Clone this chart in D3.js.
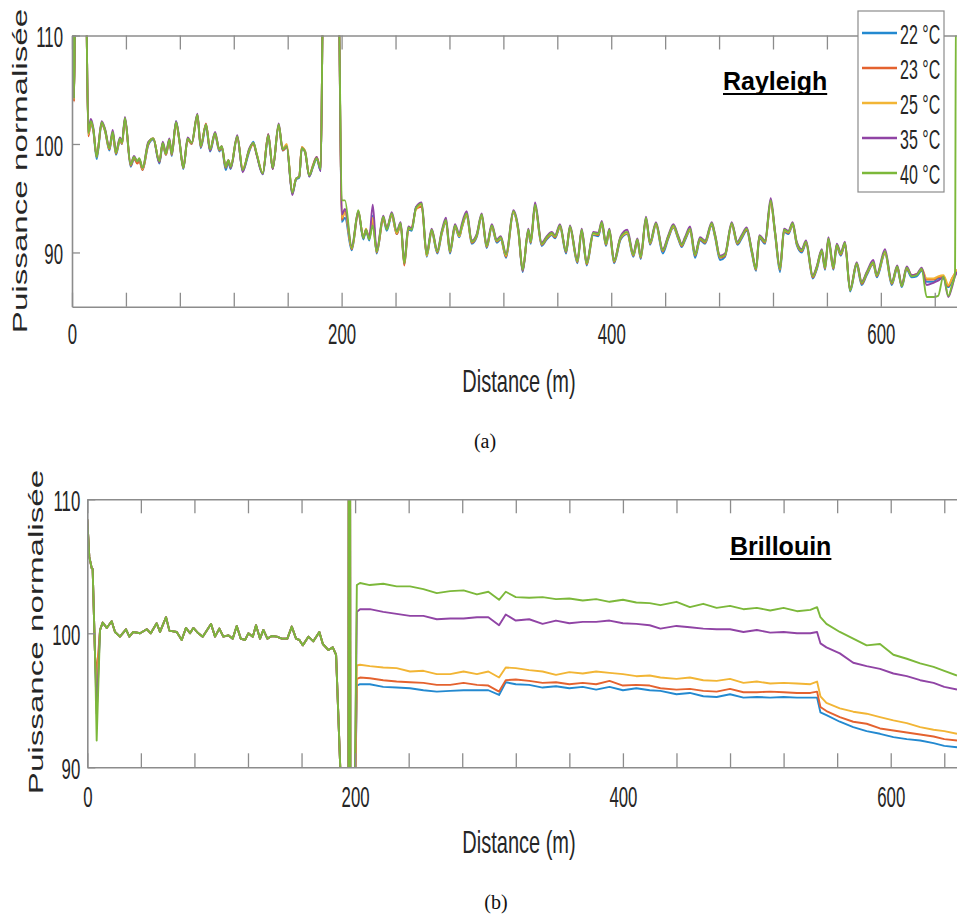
<!DOCTYPE html>
<html><head><meta charset="utf-8">
<script src="https://cdn.jsdelivr.net/npm/d3@7"></script>
<style>body{margin:0;background:#fff;} svg{display:block;}</style>
</head><body>
<svg id="c" width="957" height="914"></svg>
<script>
// ---------------- DATA ----------------
const seriesNames = ["22 °C", "23 °C", "25 °C", "35 °C", "40 °C"];
const seriesColors = ["#2389d0", "#e4622f", "#f2b535", "#9044a5", "#7cb83a"];
const xTickValues = [0,40,80,120,160,200,240,280,320,360,400,440,480,520,560,600,640];
const xTickLabels = [0,200,400,600];
const yTickValues = [90,100,110];

// Rayleigh panel (a)
const distR = [0,1.1,1.5,2.6,10.2,12.1,13.9,15.8,18.3,22.0,
24.5,27.7,30.2,32.6,35.6,37.1,39.3,43.5,46.0,48.4,
49.9,52.4,56.6,60.3,64.8,67.3,69.7,72.2,74.0,77.2,
79.6,82.6,85.8,88.8,93.0,95.5,99.4,102.4,106.1,109.3,
111.1,114.0,116.0,117.7,122.6,126.6,131.5,134.5,137.0,141.5,
145.6,148.9,153.3,156.3,159.3,163.4,166.2,168.6,170.4,172.8,
176.0,178.6,181.5,184.5,186.4,197.6,200.1,202.5,207.5,212.4,
216.1,218.1,220.5,223.1,226.0,230.9,233.5,237.2,240.9,243.8,
246.5,249.5,252.0,255.2,259.4,263.1,266.8,271.0,274.3,277.4,
280.4,284.1,287.3,289.1,292.8,296.5,300.2,303.9,307.6,311.4,
315.1,318.0,322.0,327.4,331.1,334.3,338.5,340.3,343.5,348.4,
352.2,355.9,358.3,362.0,366.5,369.4,374.9,378.1,381.8,386.7,
390.4,393.0,396.1,398.6,402.1,407.0,411.9,416.4,419.4,421.9,
425.8,428.8,433.2,438.2,442.4,446.1,449.8,452.3,454.7,458.5,
462.2,465.9,469.6,474.6,477.0,480.7,484.4,489.4,493.6,496.8,
500.5,504.2,507.4,509.9,514.1,518.3,521.5,525.2,528.2,531.4,
534.6,537.6,541.3,544.5,549.5,552.4,556.2,558.6,561.1,564.8,
567.3,570.3,573.4,577.2,582.1,585.8,589.5,594.4,597.0,603.1,
608.1,612.2,615.5,619.2,622.9,626.6,630.3,634.0,639.0,642.5,
646.4,650.1,652.8,655.0,655.8,656.5];

const ray22 = [115,115,104.0,115,115,100.8,101.8,101.2,98.6,101.8,
101.2,99.4,100.9,99.0,100.3,100.0,102.3,97.9,98.6,98.3,
98.5,97.6,99.9,100.4,98.2,99.9,99.0,100.3,98.9,102.1,
100.3,97.7,100.4,100.0,102.6,99.6,101.6,99.3,100.8,99.3,
99.6,97.6,98.3,97.7,100.6,97.5,99.3,100.2,99.0,97.2,
100.6,97.7,101.6,99.4,99.7,95.4,96.7,96.9,99.5,99.4,
97.0,97.8,98.6,97.5,115,115,92.8,93.2,90.2,93.7,
91.2,92.0,91.1,93.4,89.9,93.1,92.0,93.4,91.7,92.5,
88.9,92.1,92.0,94.2,94.3,89.6,91.9,89.9,91.7,92.8,
89.9,92.3,91.4,92.2,93.4,90.8,91.4,93.3,90.4,92.3,
90.9,91.2,89.5,93.6,91.9,88.2,91.9,90.8,94.2,90.6,
91.2,91.6,91.3,92.3,89.9,92.2,89.0,91.9,88.8,91.6,
91.5,92.6,90.6,91.9,89.0,91.2,91.7,89.6,91.0,89.4,
93.0,90.7,92.5,89.9,91.3,92.3,91.2,90.5,91.1,92.0,
89.5,91.1,90.8,92.5,91.4,89.3,89.6,92.5,90.7,91.3,
92.0,90.0,88.3,91.3,90.8,94.6,91.7,88.2,91.9,91.7,
92.5,90.7,90.0,90.8,87.6,88.4,90.0,88.4,91.1,88.4,
90.5,89.7,90.7,86.4,88.8,87.0,87.9,88.9,87.7,89.9,
87.0,88.5,86.8,88.4,87.7,87.8,88.3,87.3,87.3,87.6,
87.6,86.8,87.4,88.0,88.2,88.3];

const ray23 = [115,115,103.9,115,115,100.7,101.9,101.3,98.9,101.9,
101.2,99.5,101.0,99.1,100.4,100.0,102.3,98.0,98.7,98.2,
98.4,97.6,100.0,100.5,98.3,100.0,99.0,100.3,99.0,101.9,
100.3,97.8,100.4,100.0,102.6,99.7,101.9,99.4,100.9,99.4,
99.7,97.8,98.4,97.8,100.6,97.7,99.4,100.0,99.0,97.3,
100.9,97.7,101.7,99.4,99.7,95.5,96.8,97.0,99.7,99.3,
97.1,98.0,98.8,97.7,115,115,93.0,93.8,90.3,93.6,
91.5,92.0,91.3,93.0,90.0,93.0,92.3,93.4,91.7,92.6,
88.8,92.1,92.3,94.0,94.2,89.7,92.0,90.0,91.8,92.9,
90.0,92.4,91.5,92.3,93.5,90.9,91.5,93.4,90.5,92.4,
91.0,91.3,89.6,93.7,92.0,88.3,92.0,90.9,94.3,90.7,
91.3,91.7,91.4,92.4,90.0,92.3,89.1,92.0,88.9,91.7,
91.6,92.7,90.7,92.0,89.1,91.3,91.8,89.7,91.1,89.5,
93.1,90.8,92.6,90.1,91.4,92.4,91.3,90.6,91.2,92.1,
89.7,91.2,90.9,92.6,91.5,89.5,89.7,92.6,90.8,91.4,
92.1,90.1,88.4,91.4,90.9,94.6,91.8,88.4,92.0,91.8,
92.6,90.8,90.1,90.9,87.7,88.5,90.1,88.5,91.2,88.5,
90.6,89.8,90.8,86.5,88.9,87.1,88.0,89.0,87.8,90.0,
87.1,88.6,86.9,88.5,87.9,88.0,88.4,87.5,87.5,87.7,
87.8,86.9,87.6,88.1,88.3,88.4];

const ray25 = [115,115,104.1,115,115,100.9,102.0,101.3,98.8,101.9,
101.3,99.6,101.0,99.2,100.4,100.1,102.3,98.1,98.8,98.4,
98.6,97.7,100.1,100.5,98.4,100.1,99.1,100.4,99.1,102.0,
100.4,97.8,100.5,100.1,102.7,99.8,101.8,99.5,101.0,99.5,
99.8,97.9,98.5,97.9,100.7,97.6,99.5,100.1,99.1,97.3,
100.8,97.8,101.7,99.6,100.0,95.5,96.8,97.0,99.7,99.4,
97.1,97.9,98.7,97.7,115,115,93.2,93.7,90.4,93.8,
91.4,92.2,91.3,93.2,90.1,93.2,92.2,93.5,91.8,92.6,
89.1,92.2,92.2,94.0,94.4,89.7,92.0,90.1,91.8,92.9,
90.1,92.4,91.5,92.3,93.5,91.0,91.6,93.4,90.6,92.4,
91.1,91.3,89.7,93.7,92.0,88.4,92.0,91.0,94.3,90.8,
91.4,91.7,91.5,92.4,90.1,92.3,89.2,92.0,89.0,91.7,
91.7,92.7,90.8,92.0,89.2,91.4,91.8,89.8,91.2,89.6,
93.1,90.9,92.6,90.2,91.5,92.4,91.4,90.7,91.3,92.1,
89.8,91.3,91.0,92.6,91.6,89.6,89.8,92.6,90.9,91.5,
92.2,90.2,88.5,91.5,91.0,94.6,91.9,88.5,92.0,91.9,
92.6,90.9,90.2,91.0,87.8,88.6,90.2,88.6,91.2,88.6,
90.7,89.9,90.9,86.6,89.0,87.3,88.1,89.0,87.9,90.0,
87.2,88.7,87.0,88.6,87.9,88.0,88.5,87.6,87.6,87.8,
87.9,87.0,87.6,88.1,88.3,88.4];

const ray35 = [115,115,104.2,115,115,101.1,102.3,101.5,98.8,102.1,
101.4,99.7,101.3,99.3,100.6,100.2,102.5,98.1,98.9,98.4,
98.6,97.8,100.2,100.5,98.3,100.2,99.2,100.5,99.1,102.1,
100.5,97.8,100.6,100.1,102.8,99.8,101.8,99.4,101.1,99.5,
99.8,97.9,98.5,97.8,100.8,97.4,99.6,100.1,99.0,97.2,
100.9,97.7,101.9,99.5,99.8,95.3,96.8,97.0,99.6,99.3,
97.0,97.9,98.8,97.5,115,115,93.5,94.0,90.6,93.8,
91.3,92.1,91.3,94.4,90.2,93.4,92.2,93.7,92.0,92.8,
89.2,92.4,92.2,94.2,94.6,89.9,92.2,90.2,92.0,93.2,
90.2,92.6,91.7,92.6,93.8,91.1,91.7,93.6,90.7,92.6,
91.2,91.5,89.9,93.9,92.2,88.3,92.2,91.1,94.6,90.9,
91.5,91.9,91.6,92.6,90.1,92.5,89.3,92.2,89.1,91.9,
91.8,92.9,90.9,92.2,89.3,91.5,92.1,89.9,91.3,89.7,
93.3,91.0,92.8,90.3,91.6,92.6,91.5,90.8,91.4,92.4,
89.9,91.4,91.1,92.8,91.7,89.7,89.9,92.8,91.0,91.6,
92.3,90.3,88.6,91.6,91.1,95.0,92.0,88.6,92.2,92.0,
92.8,91.0,90.3,91.1,87.9,88.7,90.3,88.7,91.4,88.7,
90.8,90.0,91.0,86.6,89.1,87.3,88.2,89.3,88.0,90.3,
87.3,88.8,87.0,88.7,87.9,88.0,88.6,87.0,87.2,87.4,
87.7,85.9,86.8,87.8,88.0,88.2];

const ray40 = [115,115,104.2,115,115,101.0,102.1,101.4,98.8,102.0,
101.3,99.6,101.1,99.2,100.5,100.1,102.4,98.1,98.8,98.4,
98.7,97.8,100.1,100.5,98.4,100.1,99.1,100.4,99.1,102.0,
100.4,97.8,100.5,100.1,102.7,99.8,101.8,99.5,101.0,99.5,
99.8,97.9,98.5,97.9,100.7,97.6,99.5,100.1,99.1,97.3,
100.8,97.8,101.8,99.5,99.8,95.5,96.8,97.0,99.6,99.3,
97.1,97.9,98.7,97.7,115,115,94.8,94.8,90.4,93.9,
91.3,92.1,91.2,92.5,90.1,93.3,92.1,93.6,91.9,92.7,
89.0,92.3,92.1,94.1,94.5,89.8,92.1,90.1,91.9,93.0,
90.1,92.5,91.6,92.4,93.6,91.0,91.6,93.5,90.6,92.5,
91.1,91.4,89.8,93.8,92.1,88.4,92.1,91.0,94.4,90.8,
91.4,91.8,91.5,92.5,90.1,92.4,89.2,92.1,89.0,91.8,
91.7,92.8,90.8,92.1,89.2,91.4,91.9,89.8,91.2,89.6,
93.2,90.9,92.7,90.2,91.5,92.5,91.4,90.7,91.3,92.2,
89.8,91.3,91.0,92.7,91.6,89.6,89.8,92.7,90.9,91.5,
92.2,90.2,88.5,91.5,91.0,94.8,91.9,88.5,92.1,91.9,
92.7,90.9,90.2,91.0,87.8,88.6,90.2,88.6,91.3,88.6,
90.7,89.9,90.9,86.5,89.0,87.2,88.1,89.1,87.9,90.1,
87.2,88.7,86.9,88.6,87.8,87.9,88.5,85.9,85.9,86.0,
87.8,86.0,87.0,88.0,115,115];

// Brillouin panel (b)
const distB = [0,1.5,3.3,4.0,5.8,7.0,9.5,11.5,14.5,18.2,
20.7,24.4,28.9,31.4,34.4,39.4,44.4,47.4,51.8,54.3,
58.8,61.3,66.8,70.5,73.7,76.7,79.2,82.9,86.2,92.4,
95.4,98.6,101.6,105.3,108.6,111.6,114.6,117.8,120.3,123.6,
126.0,129.0,131.5,134.5,137.8,141.5,145.2,149.4,152.7,155.9,
158.4,160.9,165.1,168.8,173.3,175.9,180.1,183.3,185.8,188.9,
190.0,195.0,195.3,196.2,196.5,198.9,201.3,203.7,211,221,
231,241,251,261,271,281,291,299.5,307.5,312.5,
320,330,340,350,360,370,380,390,400,410,
420,428,440,450,460,470,480,490,500,510,
520,530,540,545,547.5,552,562,572,582,592,
602,612,622,632,640,649.5];

const bri22 = [108.5,105.7,104.85,104.8,98.25,95.0,100.25,100.8,100.4,100.9,
100.1,99.75,100.3,99.75,100.1,100.0,100.3,100.0,100.75,100.1,
101.2,100.2,100.1,99.5,100.4,100.0,100.4,100.0,99.75,100.7,
99.75,100.35,99.75,99.85,99.6,100.55,99.6,99.5,100.0,99.75,
100.6,99.6,100.25,99.6,99.8,99.75,99.6,99.6,100.5,99.6,
99.5,99.1,99.75,99.4,100.1,99.2,98.75,98.95,98.4,90.0,
80,80,120,120,80,80,96.1,96.2,96.2,96.0,
95.95,95.9,95.75,95.65,95.7,95.75,95.75,95.75,95.4,96.35,
96.2,96.15,95.95,96.05,95.9,96.0,95.8,96.0,95.75,95.9,
95.75,95.7,95.45,95.55,95.3,95.25,95.45,95.2,95.25,95.2,
95.25,95.2,95.2,95.2,94.1,93.9,93.4,93.0,92.7,92.5,
92.25,92.1,92.0,91.8,91.6,91.5];

const bri23 = [108.5,105.7,104.85,104.8,98.25,97.0,100.25,100.8,100.4,100.9,
100.1,99.75,100.3,99.75,100.1,100.0,100.3,100.0,100.75,100.1,
101.2,100.2,100.1,99.5,100.4,100.0,100.4,100.0,99.75,100.7,
99.75,100.35,99.75,99.85,99.6,100.55,99.6,99.5,100.0,99.75,
100.6,99.6,100.25,99.6,99.8,99.75,99.6,99.6,100.5,99.6,
99.5,99.1,99.75,99.4,100.1,99.2,98.75,98.95,98.4,90.0,
80,80,120,120,80,80,96.6,96.7,96.65,96.5,
96.4,96.35,96.3,96.15,96.15,96.3,96.15,96.1,95.65,96.5,
96.55,96.45,96.3,96.35,96.2,96.3,96.2,96.45,96.1,96.15,
96.1,95.9,95.8,95.85,95.7,95.65,95.85,95.6,95.6,95.65,
95.6,95.55,95.55,95.65,94.5,94.2,93.75,93.4,93.25,92.9,
92.75,92.6,92.45,92.3,92.1,92.0];

const bri25 = [108.5,105.7,104.85,104.8,98.25,95.8,100.25,100.8,100.4,100.9,
100.1,99.75,100.3,99.75,100.1,100.0,100.3,100.0,100.75,100.1,
101.2,100.2,100.1,99.5,100.4,100.0,100.4,100.0,99.75,100.7,
99.75,100.35,99.75,99.85,99.6,100.55,99.6,99.5,100.0,99.75,
100.6,99.6,100.25,99.6,99.8,99.75,99.6,99.6,100.5,99.6,
99.5,99.1,99.75,99.4,100.1,99.2,98.75,98.95,98.4,90.0,
80,80,120,120,80,80,97.6,97.65,97.55,97.45,
97.4,97.15,97.2,96.95,96.95,97.15,96.95,97.15,96.7,97.45,
97.4,97.25,97.15,96.9,97.1,97.0,97.15,97.05,96.95,96.8,
96.85,96.7,96.6,96.7,96.5,96.45,96.6,96.3,96.4,96.25,
96.3,96.25,96.2,96.4,95.3,94.8,94.4,94.15,94.0,93.75,
93.5,93.3,93.0,92.8,92.7,92.5];

const bri35 = [108.5,105.7,104.85,104.8,98.25,94.0,100.25,100.8,100.4,100.9,
100.1,99.75,100.3,99.75,100.1,100.0,100.3,100.0,100.75,100.1,
101.2,100.2,100.1,99.5,100.4,100.0,100.4,100.0,99.75,100.7,
99.75,100.35,99.75,99.85,99.6,100.55,99.6,99.5,100.0,99.75,
100.6,99.6,100.25,99.6,99.8,99.75,99.6,99.6,100.5,99.6,
99.5,99.1,99.75,99.4,100.1,99.2,98.75,98.95,98.4,90.0,
80,80,120,120,80,80,101.6,101.8,101.8,101.6,
101.45,101.3,101.3,101.05,101.1,101.1,101.2,101.2,100.6,101.4,
100.95,101.05,100.7,100.95,100.75,100.85,100.85,100.95,100.75,100.7,
100.6,100.35,100.55,100.45,100.35,100.3,100.3,100.1,100.25,100.05,
100.1,100.0,100.0,100.1,99.25,98.95,98.5,97.8,97.55,97.35,
97.0,96.8,96.5,96.3,96.0,95.8];

const bri40 = [108.5,105.7,104.85,104.8,98.25,92.0,100.25,100.8,100.4,100.9,
100.1,99.75,100.3,99.75,100.1,100.0,100.3,100.0,100.75,100.1,
101.2,100.2,100.1,99.5,100.4,100.0,100.4,100.0,99.75,100.7,
99.75,100.35,99.75,99.85,99.6,100.55,99.6,99.5,100.0,99.75,
100.6,99.6,100.25,99.6,99.8,99.75,99.6,99.6,100.5,99.6,
99.5,99.1,99.75,99.4,100.1,99.2,98.75,98.95,98.4,90.0,
80,80,120,120,80,80,103.6,103.75,103.6,103.7,
103.5,103.5,103.3,103.0,103.15,103.2,102.9,103.1,102.5,103.1,
102.7,102.65,102.7,102.55,102.6,102.45,102.55,102.35,102.5,102.3,
102.25,102.1,102.35,101.95,102.2,101.9,102.05,101.8,101.9,101.7,
101.9,101.65,101.75,101.95,101.2,100.7,100.1,99.6,99.1,99.2,
98.4,98.1,97.75,97.5,97.2,96.85];

// ---------------- DRAWING ----------------
const svg = d3.select("#c");
const FONT = "'Liberation Sans', Arial, Helvetica, sans-serif";
const AX = "#8c8c8c";
const TXT = "#262626";
const defs = svg.append("defs");

function drawPanel(cfg) {
  const x = d3.scaleLinear().domain(cfg.xDomain).range([cfg.left, cfg.right]);
  const y = d3.scaleLinear().domain(cfg.yDomain).range([cfg.bottom, cfg.top]);

  defs.append("clipPath").attr("id", cfg.id)
    .append("rect").attr("x", cfg.left).attr("y", cfg.top)
    .attr("width", cfg.right - cfg.left).attr("height", cfg.bottom - cfg.top);

  const lg = svg.append("g").attr("clip-path", `url(#${cfg.id})`);
  cfg.series.forEach((vals, k) => {
    const line = d3.line().x((d, i) => x(cfg.dist[i])).y(d => y(d)).curve(cfg.curve);
    lg.append("path").attr("d", line(vals)).attr("fill", "none")
      .attr("stroke", seriesColors[k]).attr("stroke-width", 1.9)
      .attr("stroke-linejoin", "round");
  });

  const bottom = d3.axisBottom(x).tickValues(xTickValues).tickSizeInner(-14).tickSizeOuter(0)
    .tickFormat(d => xTickLabels.includes(d) ? d : "");
  const gb = svg.append("g").attr("transform", `translate(0,${cfg.bottom})`).call(bottom);
  const top = d3.axisTop(x).tickValues(xTickValues).tickSizeInner(-14).tickSizeOuter(0).tickFormat("");
  const gt = svg.append("g").attr("transform", `translate(0,${cfg.top})`).call(top);
  const left = d3.axisLeft(y).tickValues(yTickValues).tickSizeInner(-8).tickSizeOuter(0);
  const gl = svg.append("g").attr("transform", `translate(${cfg.left},0)`).call(left);
  [gb, gt, gl].forEach(g => {
    g.select(".domain").attr("stroke", AX).attr("stroke-width", 1.6);
    g.selectAll(".tick line").attr("stroke", AX).attr("stroke-width", 1.3);
    g.selectAll("text").attr("fill", TXT).attr("font-family", FONT).attr("font-size", 16.8);
  });
  gb.selectAll(".tick text").attr("y", null).attr("dy", null)
    .attr("dominant-baseline", "central")
    .attr("transform", `translate(0,${cfg.xLabelOffset}) scale(1,1.75)`);
  gl.selectAll(".tick text").attr("x", null).attr("dy", null)
    .attr("dominant-baseline", "central").attr("text-anchor", "end")
    .attr("transform", `translate(${-cfg.yLabelGap},1) scale(1,1.75)`);

  svg.append("text").text("Distance (m)")
    .attr("font-family", FONT).attr("font-size", 20).attr("fill", TXT)
    .attr("text-anchor", "middle").attr("dominant-baseline", "central")
    .attr("transform", `translate(${cfg.xTitle[0]},${cfg.xTitle[1]}) scale(1,1.6)`);
  svg.append("text").text("Puissance normalisée")
    .attr("font-family", FONT).attr("font-size", 21).attr("fill", TXT)
    .attr("text-anchor", "middle")
    .attr("transform", `translate(${cfg.yTitle[0]},${cfg.yTitle[1]}) rotate(-90) scale(1.58,1)`);

  const t = svg.append("text").text(cfg.title)
    .attr("x", cfg.titlePos[0]).attr("y", cfg.titlePos[1])
    .attr("font-family", FONT).attr("font-size", 25).attr("font-weight", "bold").attr("fill", "#000");
  const w = t.node().getComputedTextLength();
  svg.append("line").attr("x1", cfg.titlePos[0]).attr("x2", cfg.titlePos[0] + w)
    .attr("y1", cfg.titlePos[1] + 4).attr("y2", cfg.titlePos[1] + 4)
    .attr("stroke", "#000").attr("stroke-width", 2);

  svg.append("text").text(cfg.caption)
    .attr("x", cfg.captionPos[0]).attr("y", cfg.captionPos[1])
    .attr("font-family", "'Liberation Serif', 'Times New Roman', serif").attr("font-size", 20)
    .attr("text-anchor", "middle").attr("dominant-baseline", "central").attr("fill", "#111");
  return {x, y};
}

drawPanel({
  id: "clipA", dist: distR, series: [ray22, ray23, ray25, ray35, ray40],
  curve: d3.curveMonotoneX,
  xDomain: [0, 656.5], yDomain: [85, 110],
  left: 72, right: 957, top: 35.5, bottom: 306.7,
  xLabelOffset: 27, yLabelGap: 9,
  xTitle: [519, 381], yTitle: [27, 171],
  title: "Rayleigh", titlePos: [723, 90],
  caption: "(a)", captionPos: [485, 441]
});

drawPanel({
  id: "clipB", dist: distB, series: [bri22, bri23, bri25, bri35, bri40],
  curve: d3.curveLinear,
  xDomain: [0, 649.5], yDomain: [90, 110],
  left: 87.3, right: 957, top: 499.3, bottom: 767.3,
  xLabelOffset: 29, yLabelGap: 7,
  xTitle: [519, 842], yTitle: [43, 632],
  title: "Brillouin", titlePos: [730, 555],
  caption: "(b)", captionPos: [496, 902]
});

const lgd = svg.append("g");
lgd.append("rect").attr("x", 858).attr("y", 11).attr("width", 86).attr("height", 181)
  .attr("fill", "#fff").attr("stroke", "#8c8c8c").attr("stroke-width", 1.2);
seriesNames.forEach((name, i) => {
  const yy = 33 + i * 35;
  lgd.append("line").attr("x1", 862).attr("x2", 897).attr("y1", yy).attr("y2", yy)
    .attr("stroke", seriesColors[i]).attr("stroke-width", 2.5);
  lgd.append("text").text(name)
    .attr("font-family", FONT).attr("font-size", 16).attr("fill", TXT)
    .attr("dominant-baseline", "central")
    .attr("transform", `translate(900,${yy + 1}) scale(1,1.75)`);
});
</script>
</body></html>
